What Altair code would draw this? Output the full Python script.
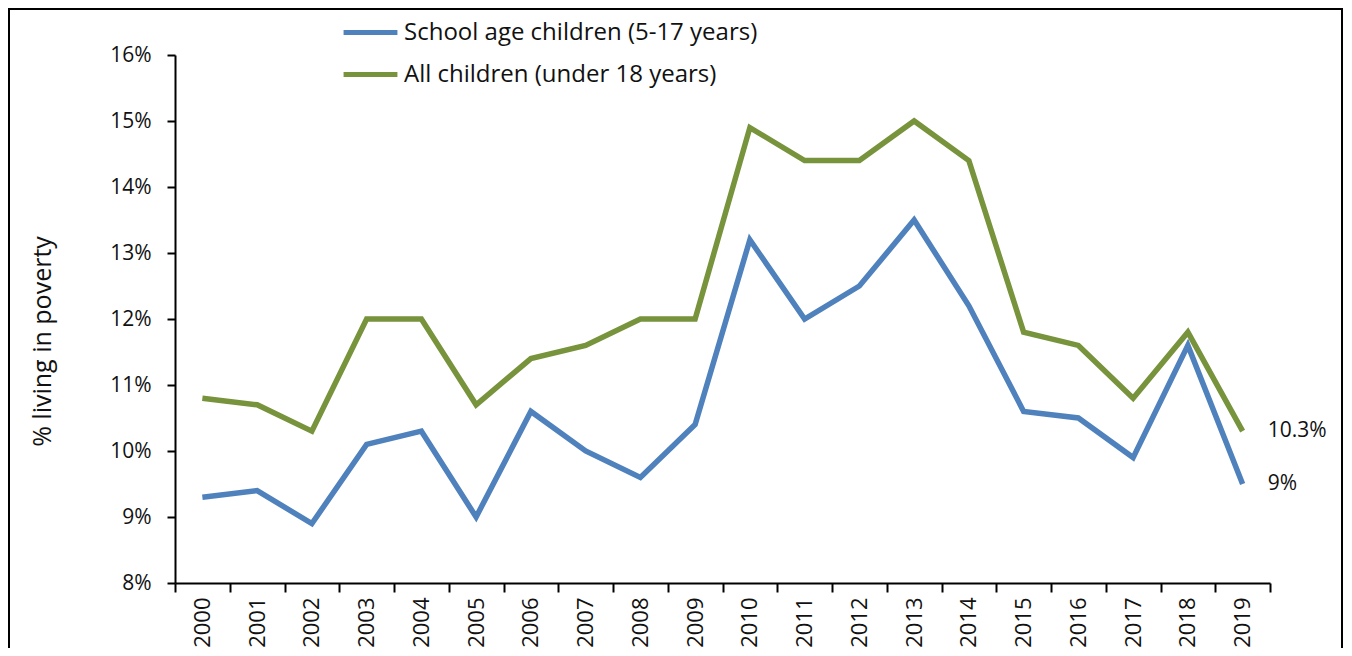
import altair as alt
import pandas as pd

years = [str(y) for y in range(2000, 2020)]
school_age = [9.3, 9.4, 8.9, 10.1, 10.3, 9.0, 10.6, 10.0, 9.6, 10.4,
              13.2, 12.0, 12.5, 13.5, 12.2, 10.6, 10.5, 9.9, 11.6, 9.5]
all_children = [10.8, 10.7, 10.3, 12.0, 12.0, 10.7, 11.4, 11.6, 12.0, 12.0,
                14.9, 14.4, 14.4, 15.0, 14.4, 11.8, 11.6, 10.8, 11.8, 10.3]
series_names = ["School age children (5-17 years)", "All children (under 18 years)"]
series_colors = ["#4F81BD", "#77933C"]
end_labels = ["9%", "10.3%"]
y_ticks = [0.08, 0.09, 0.10, 0.11, 0.12, 0.13, 0.14, 0.15, 0.16]

FONT = "Open Sans"

rows = []
for name, vals in zip(series_names, [school_age, all_children]):
    for yr, v in zip(years, vals):
        rows.append({"year": yr, "value": v / 100, "series": name})
df = pd.DataFrame(rows)

end_df = pd.DataFrame({
    "year": [years[-1], years[-1]],
    "value": [school_age[-1] / 100, all_children[-1] / 100],
    "label": end_labels,
})

W, H = 1095, 528

x_enc = alt.X(
    "year:O", sort=years,
    scale=alt.Scale(domain=years, paddingInner=0, paddingOuter=0),
    axis=alt.Axis(
        title=None, tickBand="extent", labelAngle=-90,
        labelFont=FONT, labelFontSize=22, labelColor="#111",
        tickSize=9, tickWidth=2, tickColor="black",
        domainColor="black", domainWidth=2, labelPadding=5, grid=False,
    ),
)
y_enc = alt.Y(
    "value:Q",
    scale=alt.Scale(domain=[0.08, 0.16], nice=False, zero=False),
    axis=alt.Axis(
        values=y_ticks, format=".0%", title="% living in poverty",
        titleFont=FONT, titleFontSize=25, titleFontWeight="normal", titleColor="#111",
        titleAngle=-90, titleX=-133, titleY=H / 2 + 22, titleAlign="center", titleBaseline="middle",
        labelFont=FONT, labelFontSize=21, labelColor="#111", labelPadding=16,
        tickSize=8, tickWidth=2, tickColor="black",
        domainColor="black", domainWidth=2, grid=False,
    ),
)

lines = alt.Chart(df).mark_line(strokeWidth=5.5, strokeJoin="miter").encode(
    x=x_enc,
    y=y_enc,
    color=alt.Color(
        "series:N",
        scale=alt.Scale(domain=series_names, range=series_colors),
        sort=series_names,
        legend=alt.Legend(
            title=None, orient="none", legendX=166, legendY=-52,
            symbolType="stroke", symbolSize=2900, symbolStrokeWidth=5,
            labelFont=FONT, labelFontSize=24, labelColor="#111",
            labelOffset=4, rowPadding=0, labelLimit=600,
        ),
    ),
)

labels = alt.Chart(end_df).mark_text(
    align="left", baseline="middle", dx=25, font=FONT, fontSize=21, color="#111"
).encode(x=alt.X("year:O", sort=years), y="value:Q", text="label:N")

frame = alt.Chart(pd.DataFrame({"a": [0]})).mark_rect(
    fillOpacity=0, stroke="black", strokeWidth=2
).encode(
    x=alt.value(-166), x2=alt.value(1167), y=alt.value(-46), y2=alt.value(700)
)

chart = alt.layer(frame, lines, labels).properties(
    width=W, height=H,
    autosize=alt.AutoSizeParams(type="none"),
    padding={"left": 167, "top": 47, "right": 74, "bottom": 65},
).configure(background="white").configure_view(stroke=None)

chart.save("out.html", embed_options={"renderer": "svg", "actions": False})
